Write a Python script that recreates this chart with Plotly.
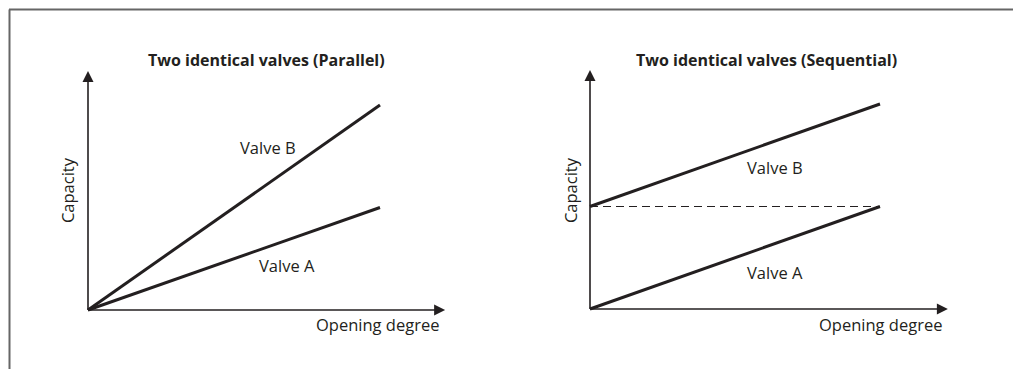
import plotly.graph_objects as go

# ---- data ----
opening = [0, 1]
parallel_valve_a = [0, 0.5]
parallel_valve_b = [0, 1]
sequential_valve_a = [0, 0.5]
sequential_valve_b = [0.5, 1]
sequential_threshold = [0.5, 0.5]

titles = ["Two identical valves (Parallel)", "Two identical valves (Sequential)"]
x_label = "Opening degree"
y_label = "Capacity"
series_labels = ["Valve A", "Valve B"]

INK = "#231f20"
FONT = "Open Sans"
W, H = 1013, 369

fig = go.Figure()

def line(x, y, xa, ya, width=3, dash=None):
    fig.add_trace(go.Scatter(x=x, y=y, xaxis=xa, yaxis=ya, mode="lines",
                             line=dict(color=INK, width=width, dash=dash),
                             hoverinfo="skip", showlegend=False))

def axis_arrows(xa, ya, xtip, ytip):
    line([0, xtip - 0.02], [0, 0], xa, ya, width=1.6)
    line([0, 0], [0, ytip - 0.03], xa, ya, width=1.6)
    fig.add_trace(go.Scatter(x=[xtip], y=[0], xaxis=xa, yaxis=ya, mode="markers",
                             marker=dict(symbol="arrow-right", size=11, color=INK, line=dict(width=0)),
                             hoverinfo="skip", showlegend=False))
    fig.add_trace(go.Scatter(x=[0], y=[ytip], xaxis=xa, yaxis=ya, mode="markers",
                             marker=dict(symbol="arrow-up", size=11, color=INK, line=dict(width=0)),
                             hoverinfo="skip", showlegend=False))

# left panel
axis_arrows("x", "y", 1.223, 1.166)
line(opening, parallel_valve_b, "x", "y")
line(opening, parallel_valve_a, "x", "y")

# right panel
axis_arrows("x2", "y2", 1.234, 1.166)
line(opening, sequential_threshold, "x2", "y2", width=1, dash="8px,5px")
line(opening, sequential_valve_b, "x2", "y2")
line(opening, sequential_valve_a, "x2", "y2")

def txt(text, x, y, xref, yref, size=16.5, bold=False, xanchor="center", angle=0):
    fig.add_annotation(text=f"<b>{text}</b>" if bold else text, x=x, y=y, xref=xref, yref=yref,
                       showarrow=False, xanchor=xanchor, yanchor="middle", textangle=angle,
                       font=dict(family=FONT, size=size, color=INK))

# left annotations
txt(titles[0], 0.61, 1.22, "x", "y", size=16, bold=True)
txt(series_labels[1], 0.616, 0.795, "x", "y")
txt(series_labels[0], 0.68, 0.215, "x", "y")
txt(x_label, 1.209, -0.073, "x", "y", xanchor="right")
txt(y_label, -0.072, 0.585, "x", "y", angle=-90)

# right annotations
txt(titles[1], 0.61, 1.215, "x2", "y2", size=16, bold=True)
txt(series_labels[1], 0.638, 0.688, "x2", "y2")
txt(series_labels[0], 0.638, 0.18, "x2", "y2")
txt(x_label, 1.221, -0.078, "x2", "y2", xanchor="right")
txt(y_label, -0.069, 0.58, "x2", "y2", angle=-90)

# frame
fig.add_shape(type="line", xref="paper", yref="paper", x0=9 / W, x1=1, y0=1 - 9.5 / H, y1=1 - 9.5 / H,
              line=dict(color="#666666", width=2))
fig.add_shape(type="line", xref="paper", yref="paper", x0=9.5 / W, x1=9.5 / W, y0=0, y1=1 - 9.5 / H,
              line=dict(color="#666666", width=2))

hidden = dict(visible=False, fixedrange=True)
fig.update_layout(
    width=W, height=H, margin=dict(l=0, r=0, t=0, b=0),
    paper_bgcolor="white", plot_bgcolor="white", showlegend=False,
    xaxis=dict(domain=[0, 0.5], range=[-88 / 292, (506.5 - 88) / 292], anchor="y", **hidden),
    yaxis=dict(domain=[0, 1], range=[-59 / 205, 310 / 205], anchor="x", **hidden),
    xaxis2=dict(domain=[0.5, 1], range=[-83.5 / 290, 423 / 290], anchor="y2", **hidden),
    yaxis2=dict(domain=[0, 1], range=[-60 / 205, 309 / 205], anchor="x2", **hidden),
)

fig.write_html("out.html", config={"displayModeBar": False},
               post_script="document.body.style.margin='0';document.body.style.overflow='hidden';")
